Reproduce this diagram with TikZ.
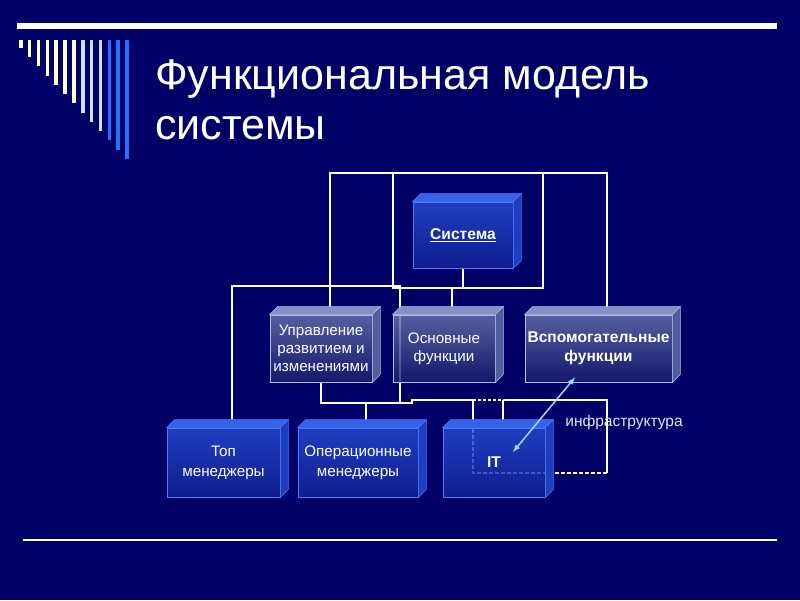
\documentclass[tikz,border=0pt]{standalone}
\usepackage{fontspec}
\setmainfont{Liberation Sans}
\usetikzlibrary{calc}

\definecolor{navy}{RGB}{0,0,102}
\definecolor{cream}{RGB}{255,255,204}
\definecolor{paleblue}{RGB}{200,228,255}
\definecolor{stripeblue}{RGB}{40,110,255}
\definecolor{blueHi}{RGB}{40,76,214}
\definecolor{blueLo}{RGB}{18,36,150}
\definecolor{blueEdge}{RGB}{70,125,255}
\definecolor{blueTop}{RGB}{52,98,232}
\definecolor{blueSide}{RGB}{30,62,190}
\definecolor{greyHi}{RGB}{104,118,172}
\definecolor{greyLo}{RGB}{24,30,110}
\definecolor{greyEdge}{RGB}{176,188,232}
\definecolor{greyTop}{RGB}{130,144,196}
\definecolor{greySide}{RGB}{80,94,156}
\definecolor{arrowblue}{RGB}{170,215,255}
\definecolor{infragrey}{RGB}{228,228,236}

\pgfdeclarelayer{bg}
\pgfdeclarelayer{wires}
\pgfsetlayers{bg,wires,main}

\tikzset{
  wire/.style={draw=white,line width=1.7pt},
  cube/.style={minimum height=67,inner sep=2pt,align=center,text=white,
    fill opacity=0.82,text opacity=1,line width=0.8pt,
    font=\fontsize{15.2}{18}\selectfont},
  bluecube/.style={cube,draw=blueEdge,top color=blueHi,bottom color=blueLo,minimum height=69,
    font=\fontsize{15.2}{20}\selectfont},
  greycube/.style={cube,draw=greyEdge,top color=greyHi,bottom color=greyLo},
  boldtext/.style={font=\fontsize{15.6}{19}\selectfont\bfseries},
  link/.style={draw=arrowblue,line width=1.5pt,latex-latex},
}

\begin{document}
\begin{tikzpicture}[x=1pt,y=1pt]
  \begin{pgfonlayer}{bg}
    \fill[navy] (0,0) rectangle (800,600);
  \end{pgfonlayer}

  % header
  \draw[white,line width=6pt] (17,574) -- (777,574);
  \foreach \i in {0,...,12} {
    \ifnum\i<7 \def\col{cream}\else\ifnum\i<10 \def\col{paleblue}\else\def\col{stripeblue}\fi\fi
    \fill[\col] ({19+8.85*\i},560) rectangle ({22.6+8.85*\i},{552-9.25*\i});
  }
  \node[anchor=base west,text=white,font=\fontsize{43}{50}\selectfont,inner sep=0] (title) at (155,510) {Функциональная модель};
  \node[anchor=base west,text=white,font=\fontsize{43}{50}\selectfont,inner sep=0] (title2) at (155,460) {системы};
  \draw[white,line width=1.5pt] (23,60) -- (777,60);

  % boxes
  \node[bluecube,minimum width=100,minimum height=66,boldtext] (sys) at (463,365) {\underline{Система}};
  \node[greycube,minimum width=102] (upr) at (321,251.5) {Управление\\развитием и\\изменениями};
  \node[greycube,minimum width=102] (osn) at (444,251.5) {Основные\\функции};
  \node[greycube,minimum width=147,boldtext] (vsp) at (598.5,251.5) {Вспомогательные\\функции};
  \node[bluecube,minimum width=113] (top) at (223.5,137.5) {Топ\\менеджеры};
  \node[bluecube,minimum width=120] (oper) at (358,137.5) {Операционные\\менеджеры};
  \node[bluecube,minimum width=102,boldtext] (it) at (494,137.5) {IT};
  \foreach \n/\kind in {sys/blue,upr/grey,osn/grey,vsp/grey,top/blue,oper/blue,it/blue} {
    \filldraw[draw=\kind Edge,fill=\kind Top,line width=0.6pt] (\n.north west) -- ++(8,8) -- ([shift={(8,8)}]\n.north east) -- (\n.north east) -- cycle;
    \filldraw[draw=\kind Edge,fill=\kind Side,line width=0.6pt] (\n.north east) -- ++(8,8) -- ([shift={(8,8)}]\n.south east) -- (\n.south east) -- cycle;
  }

  % connectors
  \coordinate (topR) at (607,427);
  \coordinate (frL) at (393,427);
  \coordinate (frR) at (543,427);
  \coordinate (hubA) at (400,314);
  \coordinate (hubB) at (400,197);
  \coordinate (itL) at (473,200);
  \coordinate (itR) at (503,200);
  \coordinate (busC) at (607,127);
  \begin{pgfonlayer}{wires}
    \draw[wire] ([xshift=9,yshift=8]upr.north) |- (topR) -- ([xshift=8.5,yshift=8]vsp.north);
    \draw[wire] (frL) -- ++(0,-115) -| (frR);
    \draw[wire] (sys.south) -- ++(0,-20) -| ([xshift=8,yshift=8]osn.north);
    \draw[wire] ([xshift=8.5,yshift=8]top.north) |- (hubA) -- (hubB) -| (upr.south);
    \draw[wire] ([xshift=8,yshift=8]oper.north) -- ++(0,17);
    \draw[wire] (hubB) -- ++(12,0) |- (itL);
    \draw[wire,dash pattern=on 3pt off 2pt] (itL) -- (itR);
    \draw[wire] (itR) -| (busC);
    \draw[wire] (itR) -- ([xshift=9,yshift=8]it.north);
    \draw[wire] (itL) -- ++(0,-20);
    \draw[wire,dash pattern=on 4pt off 2pt] (busC) -| ([yshift=-20]itL);
  \end{pgfonlayer}

  \draw[link] ([xshift=19,yshift=10.5]it.center) -- ([xshift=-23.5,yshift=5]vsp.south);
  \node[text=infragrey,font=\fontsize{15.5}{18}\selectfont] (infra) at (624,178) {инфраструктура};
\end{tikzpicture}
\end{document}
